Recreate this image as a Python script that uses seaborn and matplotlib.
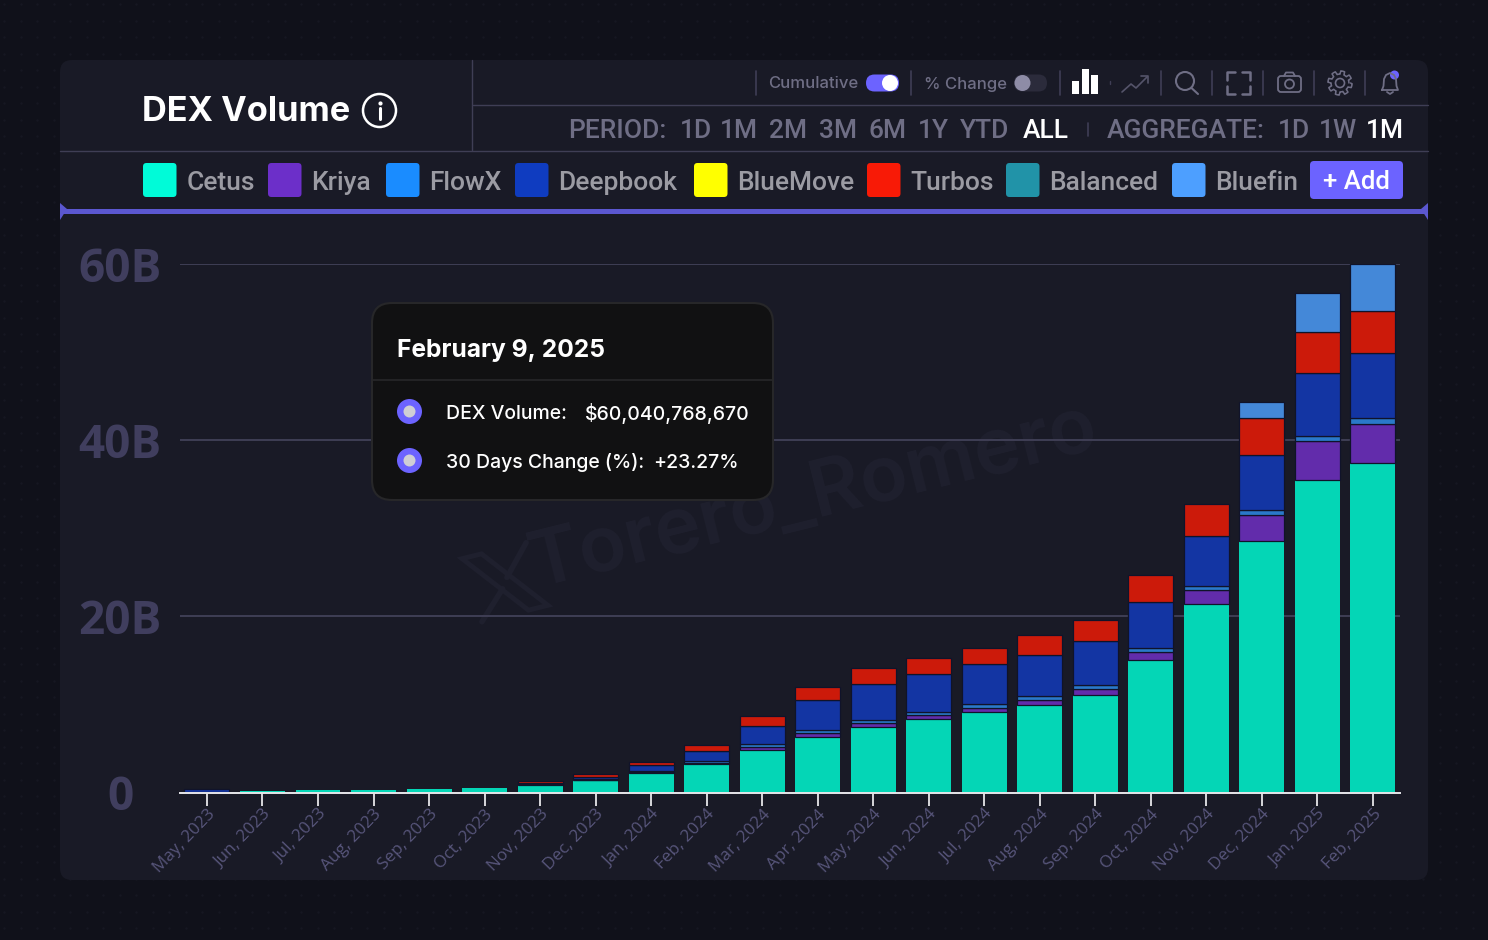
import matplotlib
matplotlib.use("Agg")
import matplotlib.pyplot as plt
import matplotlib.patches as mp
import numpy as np
import pandas as pd
import seaborn as sns

months = ["May, 2023", "Jun, 2023", "Jul, 2023", "Aug, 2023", "Sep, 2023", "Oct, 2023", "Nov, 2023", "Dec, 2023",
          "Jan, 2024", "Feb, 2024", "Mar, 2024", "Apr, 2024", "May, 2024", "Jun, 2024", "Jul, 2024", "Aug, 2024",
          "Sep, 2024", "Oct, 2024", "Nov, 2024", "Dec, 2024", "Jan, 2025", "Feb, 2025"]

# billions
cetus = [0.05, 0.22, 0.27, 0.30, 0.35, 0.55, 0.90, 1.40, 2.20, 3.18, 4.77, 6.25, 7.42, 8.33, 9.10, 9.90, 11.10, 15.00, 21.40, 28.50, 35.45, 37.40]
kriya = [0, 0, 0, 0, 0, 0, 0.02, 0.05, 0.10, 0.20, 0.35, 0.45, 0.45, 0.50, 0.50, 0.55, 0.60, 0.90, 1.60, 3.00, 4.40, 4.40]
flowx = [0, 0, 0, 0, 0, 0, 0.03, 0.05, 0.15, 0.25, 0.40, 0.35, 0.40, 0.30, 0.45, 0.50, 0.45, 0.50, 0.45, 0.55, 0.60, 0.70]
deepbook = [0.30, 0, 0, 0, 0, 0, 0.15, 0.30, 0.70, 1.05, 2.00, 3.40, 4.05, 4.30, 4.50, 4.70, 5.10, 5.20, 5.70, 6.25, 7.15, 7.40]
turbos = [0, 0, 0, 0, 0, 0, 0.20, 0.25, 0.35, 0.75, 1.20, 1.50, 1.80, 1.80, 1.90, 2.25, 2.35, 3.05, 3.60, 4.20, 4.70, 4.80]
bluefin = [0, 0, 0, 0, 0, 0, 0, 0, 0, 0, 0, 0, 0, 0, 0, 0, 0, 0, 0, 1.80, 4.40, 5.30]

series_names = ["Cetus", "Kriya", "FlowX", "Deepbook", "Turbos", "Bluefin"]
series_values = [cetus, kriya, flowx, deepbook, turbos, bluefin]
bar_colors = ["#04d6b6", "#622cab", "#2a79c9", "#1335a3", "#cc1a0a", "#4488d8"]

y_ticks = [0, 20, 40, 60]
y_labels = ["0", "20B", "40B", "60B"]

legend_names = ["Cetus", "Kriya", "FlowX", "Deepbook", "BlueMove", "Turbos", "Balanced", "Bluefin"]
legend_colors = ["#00fbd8", "#6c2fc9", "#1a8cff", "#0f3cc0", "#ffff00", "#f81a06", "#2193a8", "#4d9fff"]

BG = "#10111a"
CARD = "#191a26"
LINE = "#3f3e55"
MUTED = "#6f6e85"
ACCENT = "#6c63ff"
MARK = "#1f202e"
UI_FONT = "Inter"

sns.set_theme(style="dark", rc={"axes.grid": False})
plt.rcParams["font.family"] = ["Open Sans", "DejaVu Sans"]

fig = plt.figure(figsize=(14.88, 9.4), dpi=100, facecolor=BG)

# pixel space overlay for the app chrome
ui = fig.add_axes([0, 0, 1, 1], zorder=0)
ui.set_xlim(0, 1488)
ui.set_ylim(940, 0)
ui.axis("off")

top = fig.add_axes([0, 0, 1, 1], zorder=5)
top.set_xlim(0, 1488)
top.set_ylim(940, 0)
top.axis("off")
top.patch.set_alpha(0)

dx, dy = np.meshgrid(np.arange(4, 1488, 16.5), np.arange(4, 940, 16.5))
ui.scatter(dx.ravel(), dy.ravel(), s=3, color="#161722", lw=0)

ui.add_patch(mp.FancyBboxPatch((68, 68), 1352, 804, boxstyle="round,pad=8,rounding_size=12", fc=CARD, ec="none"))
ui.add_patch(mp.Rectangle((60, 209), 1368, 5, fc="#5b57d0", ec="none"))
ui.add_patch(mp.Polygon([(60, 203), (67, 209), (60, 220)], fc="#5b57d0", ec="none"))
ui.add_patch(mp.Polygon([(1428, 203), (1421, 209), (1428, 220)], fc="#5b57d0", ec="none"))
ui.plot([472, 472], [60, 150], color=LINE, lw=1)
ui.plot([473, 1428], [105, 105], color=LINE, lw=1)
ui.plot([60, 1428], [150.5, 150.5], color=LINE, lw=1)

# title
ui.text(142, 112, "DEX Volume", color="white", fontsize=24.7, fontweight="bold", family=UI_FONT, va="center", ha="left")
ui.add_patch(mp.Circle((379.5, 110.5), 16.5, fc="none", ec="white", lw=1.8))
ui.plot([379.5, 379.5], [108, 119], color="white", lw=2.2, solid_capstyle="round")
ui.scatter([379.5], [102.5], s=9, color="white", lw=0)

# top toolbar
for x in [756, 911, 1060, 1161, 1212, 1263, 1314, 1365]:
    ui.plot([x, x], [71, 95], color=LINE, lw=1.2)
ui.text(768.5, 84, "Cumulative", color=MUTED, fontsize=12, fontweight=500, family=UI_FONT, va="center")
ui.add_patch(mp.FancyBboxPatch((866, 74.5), 33, 17, boxstyle="round,pad=0,rounding_size=8.5", fc=ACCENT, ec="none"))
ui.add_patch(mp.Circle((890, 83), 8, fc="white", ec="none"))
ui.text(923.5, 84, "% Change", color=MUTED, fontsize=12, fontweight=500, family=UI_FONT, va="center")
ui.add_patch(mp.FancyBboxPatch((1014, 74.5), 33, 17, boxstyle="round,pad=0,rounding_size=8.5", fc="#2b2b3b", ec="none"))
ui.add_patch(mp.Circle((1022.5, 83), 8, fc="#8e8ca6", ec="none"))

# bar icon
for x0, h in [(1072, 13), (1081.5, 25), (1091, 19)]:
    ui.add_patch(mp.Rectangle((x0, 94 - h), 7, h, fc="white", ec="none"))
ui.plot([1110, 1110], [81, 84], color=LINE, lw=1)
# line icon
ui.plot([1122, 1131, 1136, 1147], [92, 84, 88, 77], color="#55546a", lw=1.2)
ui.plot([1141, 1148, 1148], [76, 76, 83], color="#55546a", lw=1.2)
# search
ui.add_patch(mp.Circle((1185, 81), 9, fc="none", ec=MUTED, lw=1.5))
ui.plot([1191.5, 1198], [88, 94], color=MUTED, lw=1.5)
# fullscreen
for cx, cy, sx, sy in [(1227, 72, 1, 1), (1250, 72, -1, 1), (1227, 94, 1, -1), (1250, 94, -1, -1)]:
    ui.plot([cx + 8 * sx, cx, cx], [cy, cy, cy + 8 * sy], color=MUTED, lw=1.8)
# camera
ui.add_patch(mp.FancyBboxPatch((1278, 76), 23, 16, boxstyle="round,pad=0,rounding_size=3", fc="none", ec=MUTED, lw=1.3))
ui.add_patch(mp.Circle((1289.5, 84), 4.5, fc="none", ec=MUTED, lw=1.3))
ui.plot([1284, 1286, 1293, 1295], [76, 72.5, 72.5, 76], color=MUTED, lw=1.3)
# gear
ui.add_patch(mp.Circle((1340, 83), 4.5, fc="none", ec=MUTED, lw=1.2))
ang = np.linspace(0, 2 * np.pi, 97)
rad = 10.5 + 1.6 * np.sign(np.sin(8 * ang))
ui.plot(1340 + rad * np.cos(ang), 83 + rad * np.sin(ang), color=MUTED, lw=1.1)
# bell
bx = [1382, 1383.5, 1384, 1386, 1390, 1394, 1396, 1396.5, 1398, 1382]
by = [90, 86, 79, 75, 73, 75, 79, 86, 90, 90]
ui.plot(bx, by, color=MUTED, lw=1.3)
ui.plot([1387, 1390, 1393], [92, 94, 92], color=MUTED, lw=1.3)
ui.add_patch(mp.Circle((1394.5, 75), 4.5, fc=ACCENT, ec="none"))

# period / aggregate row
period_items = [(568, "PERIOD:"), (680, "1D"), (720, "1M"), (769, "2M"), (819, "3M"), (869, "6M"), (918, "1Y"), (960, "YTD"),
                (1023, "ALL"), (1107, "AGGREGATE:"), (1278, "1D"), (1319, "1W"), (1366, "1M")]
for x, s in period_items:
    col = "white" if s == "ALL" or x == 1366 else MUTED
    ui.text(x, 131, s, color=col, fontsize=19, fontweight=500, family="Roboto", va="center", ha="left")
ui.plot([1088, 1088], [123, 136], color=LINE, lw=1.2)

# legend row
swatch_x = [143, 268, 386, 515, 694, 867, 1006, 1172]
for x, name, c in zip(swatch_x, legend_names, legend_colors):
    ui.add_patch(mp.FancyBboxPatch((x, 163), 33.5, 34, boxstyle="round,pad=0,rounding_size=3.5", fc=c, ec="none"))
    ui.text(x + 43.5, 183, name, color="#9b9ba3", fontsize=19, fontweight=500, family="Roboto", va="center", ha="left")
ui.add_patch(mp.FancyBboxPatch((1310, 161), 93, 38, boxstyle="round,pad=0,rounding_size=4", fc=ACCENT, ec="none"))
ui.text(1356.5, 182, "+ Add", color="white", fontsize=18.5, fontweight=500, family="Roboto", va="center", ha="center")

# watermark, the X logo is turned with the text
ui.text(814, 497, "Torero_Romero", color=MARK, fontsize=56, fontweight=600, family=UI_FONT, rotation=14,
        rotation_mode="anchor", va="center", ha="center")


def logo_points(pts):
    t = np.radians(-14)
    out = []
    for px, py in pts:
        out.append((505 + px * np.cos(t) - py * np.sin(t), 582 + px * np.sin(t) + py * np.cos(t)))
    return out


ui.add_patch(mp.Polygon(logo_points([(-36, -33), (-16, -33), (36, 33), (16, 33)]), fc="none", ec=MARK, lw=3.5))
ui.plot(*zip(*logo_points([(30, -33), (3, -4)])), color=MARK, lw=4)
ui.plot(*zip(*logo_points([(-4, 6), (-32, 33)])), color=MARK, lw=4)

# chart
ax = fig.add_axes([180 / 1488, 1 - 792.5 / 940, 1220 / 1488, 528.5 / 940], zorder=2)
ax.patch.set_alpha(0)
base = np.zeros(len(months))
for name, vals, col in zip(series_names, series_values, bar_colors):
    arr = np.array(vals)
    # months without volume get no bar at all, not a dark edge line
    has = arr > 0
    df = pd.DataFrame({"month": np.array(months)[has], "value": arr[has]})
    lw = 0 if name == "Cetus" else 0.9
    sns.barplot(data=df, x="month", y="value", order=months, color=col, saturation=1, width=0.81, bottom=base[has],
                edgecolor="#10132a", linewidth=lw, ax=ax, zorder=3)
    base = base + arr
ax.set_xlim(-0.486, 21.49)
ax.set_ylim(0, 60)
ax.set_xlabel("")
ax.set_ylabel("")
ax.set_yticks(y_ticks)
ax.set_yticklabels(y_labels)
ax.yaxis.grid(True, color=LINE, lw=1.4, zorder=1)
ax.set_axisbelow(True)
ax.tick_params(axis="y", length=0, pad=43, labelsize=33, labelcolor="#403e5e")
for t in ax.get_yticklabels():
    t.set_fontweight("bold")
    t.set_ha("center")
ax.tick_params(axis="x", length=9, width=1.3, color="#e6e6ea", labelsize=12.3, labelcolor="#57557a", pad=1, bottom=True)
plt.setp(ax.get_xticklabels(), rotation=46, ha="right", rotation_mode="anchor")
for side in ["top", "left", "right"]:
    ax.spines[side].set_visible(False)
ax.spines["bottom"].set_color("#e6e6ea")
ax.spines["bottom"].set_linewidth(1.4)
ax.spines["bottom"].set_zorder(6)

# tooltip
top.add_patch(mp.FancyBboxPatch((372, 303), 401, 197, boxstyle="round,pad=0,rounding_size=20", fc="#111112", ec="#272729", lw=1.5))
top.plot([372, 773], [379.5, 379.5], color="#272729", lw=1.2)
top.text(397, 350, "February 9, 2025", color="white", fontsize=17.7, fontweight="bold", family=UI_FONT, va="center")
for cy in [411.5, 460.5]:
    top.add_patch(mp.Circle((409.5, cy), 12.5, fc=ACCENT, ec="none"))
    top.add_patch(mp.Circle((409.5, cy), 6, fc="#cfcfd4", ec="none"))
top.text(446, 414, "DEX Volume:", color="white", fontsize=14, fontweight=500, family=UI_FONT, va="center")
top.text(750, 414, "$60,040,768,670", color="white", fontsize=14, fontweight=500, family=UI_FONT, va="center", ha="right")
top.text(446, 463, "30 Days Change (%):", color="white", fontsize=14, fontweight=500, family=UI_FONT, va="center")
top.text(739, 463, "+23.27%", color="white", fontsize=14, fontweight=500, family=UI_FONT, va="center", ha="right")

fig.savefig("out.png", dpi=100, facecolor=BG)
